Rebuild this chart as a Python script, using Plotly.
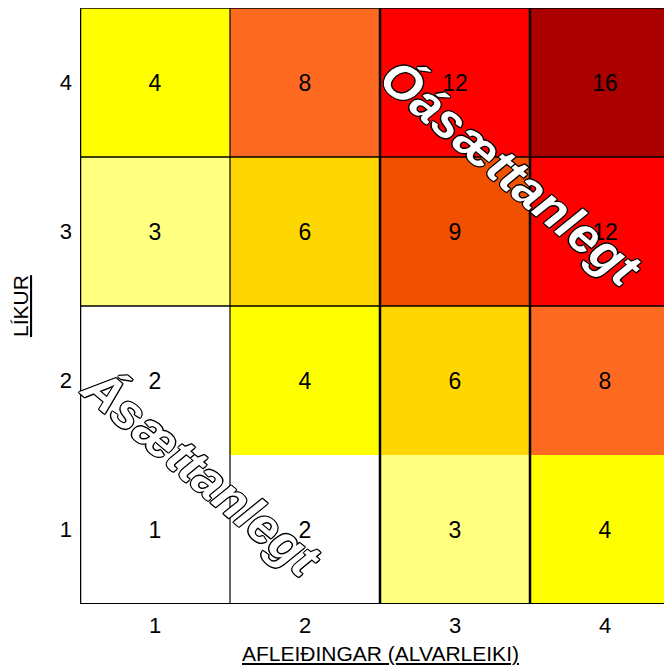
import plotly.graph_objects as go

# Data
consequence = [1, 2, 3, 4]          # x: AFLEIÐINGAR (ALVARLEIKI)
likelihood = [1, 2, 3, 4]           # y: LÍKUR
risk = [
    [1, 2, 3, 4],     # likelihood 1
    [2, 4, 6, 8],     # likelihood 2
    [3, 6, 9, 12],    # likelihood 3
    [4, 8, 12, 16],   # likelihood 4
]
risk_colors = {1: "#FFFFFF", 2: "#FFFFFF", 3: "#FFFF80", 4: "#FFFF00",
               6: "#FFD700", 8: "#FF6A22", 9: "#F05000", 12: "#FF0000",
               16: "#AA0000"}
x_title = "AFLEIÐINGAR (ALVARLEIKI)"
y_title = "LÍKUR"
label_low = "Ásættanlegt"
label_high = "Óásættanlegt"

levels = sorted(risk_colors)
n = len(levels)
zidx = [[levels.index(v) for v in row] for row in risk]
colorscale = []
for i, lv in enumerate(levels):
    colorscale.append([i / n, risk_colors[lv]])
    colorscale.append([(i + 1) / n, risk_colors[lv]])

FONT = "Liberation Sans, Arial, sans-serif"

fig = go.Figure(go.Heatmap(
    x=consequence, y=likelihood, z=zidx,
    text=risk, texttemplate="%{text}",
    textfont=dict(family=FONT, size=23, color="black"),
    colorscale=colorscale, zmin=0, zmax=n, showscale=False,
    hoverinfo="skip", xgap=0, ygap=0,
))

shapes = []
# vertical lines
for xv, w in [(0.5, 2.5), (1.5, 1.2), (2.5, 2.5), (3.5, 2.5)]:
    shapes.append(dict(type="line", xref="x", yref="y", x0=xv, x1=xv, y0=0.5, y1=4.5,
                       line=dict(color="black", width=w)))
# horizontal lines
for yv, w in [(0.5, 2), (2.5, 1.6), (3.5, 1.6), (4.5, 1.6)]:
    shapes.append(dict(type="line", xref="x", yref="y", x0=0.5, x1=4.6, y0=yv, y1=yv,
                       line=dict(color="black", width=w)))

outline = ("1px 0 0 #000, -1px 0 0 #000, 0 1px 0 #000, 0 -1px 0 #000, "
           "1px 1px 0 #000, -1px -1px 0 #000, 1px -1px 0 #000, -1px 1px 0 #000")
big_font = dict(family=FONT, size=50, color="white", weight="bold", style="italic",
                shadow=outline)

annotations = [
    dict(x=3.37, y=3.39, xref="x", yref="y", text=label_high, textangle=40,
         showarrow=False, font=big_font),
    dict(x=1.31, y=1.38, xref="x", yref="y", text=label_low, textangle=40,
         showarrow=False, font=big_font),
    dict(x=(300 / 592), y=-49 / 596, xref="paper", yref="paper",
         text=x_title, showarrow=False, xanchor="center", yanchor="middle",
         font=dict(family=FONT, size=21, color="black", lineposition="under")),
    dict(x=-60 / 592, y=0.5, xref="paper", yref="paper",
         text=y_title, showarrow=False, textangle=-90, xanchor="center", yanchor="middle",
         font=dict(family=FONT, size=21, color="black", lineposition="under")),
]

fig.update_layout(
    width=664, height=657,
    margin=dict(l=72, r=0, t=0, b=61),
    paper_bgcolor="white", plot_bgcolor="white",
    shapes=shapes, annotations=annotations,
    xaxis=dict(range=[0.5, 4.4467], tickvals=consequence, showgrid=False, zeroline=False,
               ticks="", ticklabelstandoff=6,
               tickfont=dict(family=FONT, size=22, color="black")),
    yaxis=dict(range=[0.5, 4.5], tickvals=likelihood, showgrid=False, zeroline=False,
               ticks="", ticklabelstandoff=7,
               tickfont=dict(family=FONT, size=22, color="black")),
)

fig.write_html("out.html")
